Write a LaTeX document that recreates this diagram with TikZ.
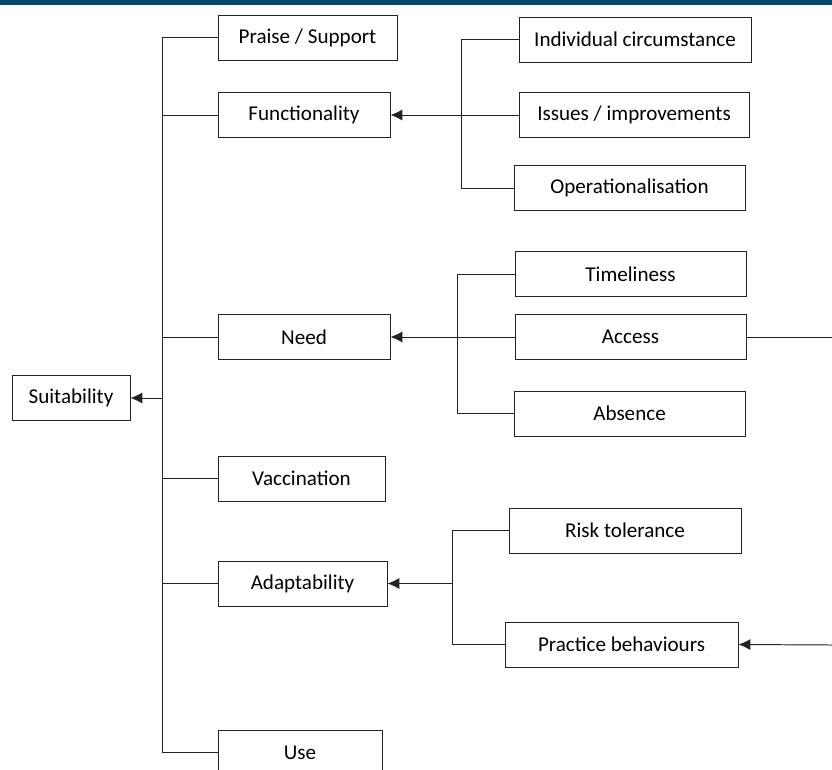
\documentclass[tikz,border=0pt]{standalone}
\usepackage{fontspec}
\setmainfont{Carlito}
\usepackage{xcolor}
\usetikzlibrary{arrows.meta}
\definecolor{headerblue}{RGB}{0, 72, 110}
\definecolor{linegray}{RGB}{35, 35, 35}

\begin{document}
\begin{tikzpicture}[
    x=0.025cm, y=-0.025cm,
    box/.style={
      rectangle,
      draw=linegray,
      line width=0.65pt,
      fill=white,
      minimum height=1.125cm,
      inner sep=0pt,
      align=center,
      font=\fontsize{15}{18}\selectfont
    },
    link/.style={linegray, line width=0.7pt},
    arrow/.style={-{Latex[length=8.5pt, width=8pt]}, linegray, line width=0.7pt}
  ]
    \useasboundingbox (0,0) rectangle (832,769);
    \fill[headerblue] (0,0) rectangle (832,5);

    % main branch
    \node[box, minimum width=2.95cm] (suit) at (71,398) {Suitability};
    \node[box, minimum width=4.475cm] (praise) at (307.5,37.5) {Praise / Support};
    \node[box, minimum width=4.3cm] (func) at (304,115) {Functionality};
    \node[box, minimum width=4.3cm] (need) at (304,337) {Need};
    \node[box, minimum width=4.175cm] (vacc) at (301.5,478.5) {Vaccination};
    \node[box, minimum width=4.225cm] (adapt) at (302.5,583.5) {Adaptability};
    \node[box, minimum width=4.1cm] (use) at (300,752.5) {Use};

    % functionality
    \node[box, minimum width=5.8cm] (indiv) at (635,39.5) {Individual circumstance};
    \node[box, minimum width=5.75cm] (issues) at (634,115) {Issues / improvements};
    \node[box, minimum width=5.775cm] (oper) at (629.5,188) {Operationalisation};

    % need
    \node[box, minimum width=5.775cm] (time) at (630.5,274) {Timeliness};
    \node[box, minimum width=5.775cm] (access) at (630.5,337) {Access};
    \node[box, minimum width=5.775cm] (absence) at (629.5,413.5) {Absence};

    % adaptability
    \node[box, minimum width=5.8cm] (risk) at (625,530.5) {Risk tolerance};
    \node[box, minimum width=5.825cm] (practice) at (621.5,644.5) {Practice behaviours};

    \coordinate (trunk) at (162,0);
    \coordinate (fbus) at (461,0);
    \coordinate (nbus) at (457,0);
    \coordinate (abus) at (452,0);
    \coordinate (accessout) at (832,337);
    \coordinate (practicein) at (832,645);

    \draw[link] (praise.west) -- (praise.west -| trunk) -- (use.west -| trunk) -- (use.west);
    \draw[link] (func.west) -- (func.west -| trunk);
    \draw[link] (need.west) -- (need.west -| trunk);
    \draw[link] (vacc.west) -- (vacc.west -| trunk);
    \draw[link] (adapt.west) -- (adapt.west -| trunk);
    \draw[arrow] (suit.east -| trunk) -- (suit.east);

    \draw[link] (indiv.west) -- (indiv.west -| fbus) -- (oper.west -| fbus) -- (oper.west);
    \draw[arrow] (issues.west) -- (func.east);

    \draw[link] (time.west) -- (time.west -| nbus) -- (absence.west -| nbus) -- (absence.west);
    \draw[arrow] (access.west) -- (need.east);
    \draw[link] (access.east) -- (accessout);

    \draw[link] (risk.west) -- (risk.west -| abus) -- (practice.west -| abus) -- (practice.west);
    \draw[arrow] (adapt.east -| abus) -- (adapt.east);
    \draw[arrow] (practicein) -- (practice.east);
  \end{tikzpicture}
\end{document}
